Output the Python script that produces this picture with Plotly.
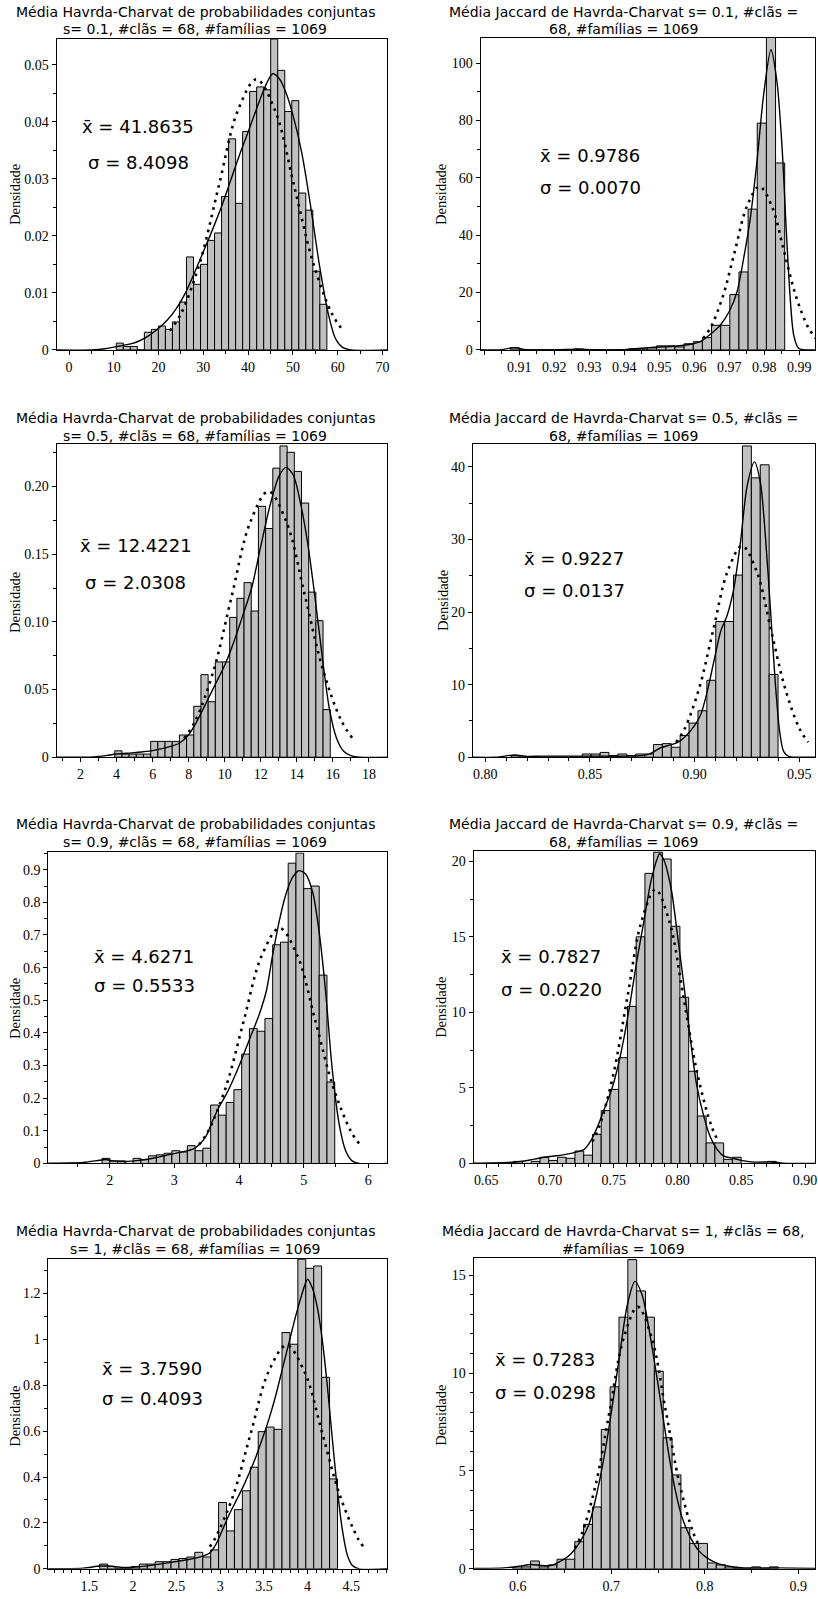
import plotly.graph_objects as go

W, H = 818, 1599

# ---------------- data ----------------
P1_TITLE = ["Média Havrda-Charvat de probabilidades conjuntas", "s= 0.1, #clãs = 68, #famílias = 1069"]
P1_MEAN, P1_SIGMA = "41.8635", "8.4098"
P1_BIN_START, P1_BIN_WIDTH = 10.55, 1.568
P1_HEIGHTS = [0.0012, 0.0006, 0.0006, 0, 0.0031, 0.0036, 0.0042, 0.0036, 0.0049, 0.0084, 0.0163, 0.0115,
              0.0150, 0.0192, 0.0205, 0.0269, 0.0370, 0.0257, 0.0383, 0.0453, 0.0461, 0.0456, 0.0545,
              0.0490, 0.0418, 0.0437, 0.0275, 0.0245, 0.0138, 0.0080]
P1_KDE_X = [-2.8, 5, 8, 10, 12, 14, 16, 18, 20, 22, 24, 26, 28, 30, 32, 34, 36, 38, 40, 42, 44, 45.5, 47,
            48.5, 50, 52, 54, 56, 58, 59.5, 61, 63, 71.1]
P1_KDE_Y = [0, 0, 0.0002, 0.0005, 0.0008, 0.0011, 0.0017, 0.0026, 0.0038, 0.0053, 0.0073, 0.0100, 0.0135,
            0.0172, 0.0210, 0.0250, 0.0295, 0.0340, 0.0382, 0.0425, 0.0465, 0.0484, 0.0475, 0.0450, 0.0412,
            0.0345, 0.0250, 0.0145, 0.0060, 0.0020, 0.0005, 0, 0]
P1_NORM_X = [22.52, 25.04, 29.25, 33.46, 37.66, 41.86, 46.07, 50.27, 54.48, 58.68, 61.21]
P1_NORM_Y = [0.00337, 0.00642, 0.01540, 0.02877, 0.04187, 0.04744, 0.04187, 0.02877, 0.01540, 0.00642, 0.00337]

P2_TITLE = ["Média Jaccard de Havrda-Charvat s= 0.1, #clãs =", "68, #famílias = 1069"]
P2_MEAN, P2_SIGMA = "0.9786", "0.0070"
P2_BIN_START, P2_BIN_WIDTH = 0.90743, 0.002613
P2_HEIGHTS = [0.72, 0, 0, 0, 0, 0, 0, 0.36, 0, 0, 0, 0, 0, 0.36, 0.36, 0.72, 1.43, 1.43, 1.07, 2.15, 2.87,
              4.30, 8.60, 8.60, 19.3, 27.2, 49.1, 79.1, 110.3, 65.2]
P2_KDE_X = [0.8989, 0.905, 0.9084, 0.912, 0.92, 0.9266, 0.932, 0.94, 0.9447, 0.9494, 0.9542, 0.9589, 0.9618,
            0.9646, 0.9675, 0.9700, 0.9722, 0.9741, 0.976, 0.9779, 0.9798, 0.9819, 0.9836, 0.9851, 0.9863,
            0.9874, 0.9884, 0.9898, 0.9945]
P2_KDE_Y = [0, 0.1, 0.8, 0.1, 0, 0.3, 0, 0.1, 0.6, 1.0, 1.3, 2.0, 3.0, 5.5, 8.8, 13.5, 20.3, 32, 46, 65.7, 89,
            104.7, 93.6, 70, 41, 18, 5.2, 0.6, 0]
P2_NORM_X = [0.96250, 0.9646, 0.9681, 0.9716, 0.9751, 0.9786, 0.9821, 0.9856, 0.9891, 0.9926, 0.9947]
P2_NORM_Y = [4.05, 7.71, 18.50, 34.56, 50.29, 56.99, 50.29, 34.56, 18.50, 7.71, 4.05]

P3_TITLE = ["Média Havrda-Charvat de probabilidades conjuntas", "s= 0.5, #clãs = 68, #famílias = 1069"]
P3_MEAN, P3_SIGMA = "12.4221", "2.0308"
P3_BIN_START, P3_BIN_WIDTH = 3.90, 0.3985
P3_HEIGHTS = [0.0047, 0.0023, 0.0023, 0.0023, 0.0023, 0.0117, 0.0117, 0.0117, 0.0117, 0.0164, 0.0164, 0.0376,
              0.0610, 0.0410, 0.0704, 0.0704, 0.1033, 0.1174, 0.1290, 0.1080, 0.1854, 0.1690, 0.2136, 0.2300,
              0.2253, 0.2112, 0.1878, 0.1220, 0.1009, 0.0352]
P3_KDE_X = [0.67, 2.5, 3, 4, 5, 6, 7, 7.5, 8, 8.5, 9, 9.5, 10, 10.5, 11, 11.5, 12, 12.5, 13, 13.4, 13.8, 14.2,
            14.6, 15, 15.4, 15.8, 16.2, 16.6, 17, 17.5, 18.99]
P3_KDE_Y = [0, 0, 0.0005, 0.0024, 0.0034, 0.0049, 0.008, 0.0105, 0.0166, 0.0276, 0.041, 0.0545, 0.068, 0.085,
            0.1046, 0.1254, 0.156, 0.1853, 0.2073, 0.2142, 0.2086, 0.188, 0.1584, 0.119, 0.0753, 0.0362,
            0.0142, 0.0044, 0.0012, 0, 0]
P3_NORM_X = [7.751, 8.360, 9.376, 10.391, 11.407, 12.422, 13.437, 14.453, 15.468, 16.484, 17.093]
P3_NORM_Y = [0.01395, 0.02658, 0.06379, 0.11915, 0.17337, 0.19645, 0.17337, 0.11915, 0.06379, 0.02658, 0.01395]

P4_TITLE = ["Média Jaccard de Havrda-Charvat s= 0.5, #clãs =", "68, #famílias = 1069"]
P4_MEAN, P4_SIGMA = "0.9227", "0.0137"
P4_BIN_START, P4_BIN_WIDTH = 0.81238, 0.004249
P4_HEIGHTS = [0.22, 0, 0, 0, 0, 0, 0, 0, 0.44, 0.44, 0.66, 0.22, 0.44, 0.22, 0.44, 0.44, 1.74, 1.87, 1.37,
              3.0, 4.7, 6.4, 10.6, 18.7, 18.7, 25.1, 42.9, 38.5, 40.3, 11.4]
P4_KDE_X = [0.7941, 0.805, 0.8140, 0.82, 0.8267, 0.85, 0.8775, 0.8838, 0.8886, 0.8917, 0.8957, 0.8997, 0.9029,
            0.9060, 0.9092, 0.9124, 0.9156, 0.9187, 0.9219, 0.9251, 0.9286, 0.9314, 0.9338, 0.9362, 0.9386,
            0.9406, 0.9425, 0.9449, 0.9473, 0.9575]
P4_KDE_Y = [0, 0, 0.3, 0.1, 0.15, 0.15, 0.35, 1.3, 1.7, 2.0, 2.9, 4.25, 5.85, 9.0, 13.2, 17.3, 19.6, 23.2, 29.6,
            37.4, 40.7, 37.9, 30.5, 20.5, 10, 3.6, 0.8, 0.1, 0, 0]
P4_NORM_X = [0.89119, 0.8953, 0.90215, 0.9090, 0.91585, 0.9227, 0.92955, 0.9364, 0.94325, 0.9501, 0.95421]
P4_NORM_Y = [2.068, 3.940, 9.455, 17.661, 25.698, 29.12, 25.698, 17.661, 9.455, 3.940, 2.068]

P5_TITLE = ["Média Havrda-Charvat de probabilidades conjuntas", "s= 0.9, #clãs = 68, #famílias = 1069"]
P5_MEAN, P5_SIGMA = "4.6271", "0.5533"
P5_BIN_START, P5_BIN_WIDTH = 1.8817, 0.11997
P5_HEIGHTS = [0.0156, 0.0078, 0.0078, 0, 0.0156, 0.0117, 0.0234, 0.0264, 0.0312, 0.0390, 0.0350, 0.0546,
              0.0390, 0.0468, 0.179, 0.148, 0.187, 0.226, 0.335, 0.413, 0.405, 0.444, 0.670, 0.678, 0.920,
              0.951, 0.842, 0.850, 0.577, 0.2495]
P5_KDE_X = [1.048, 1.589, 1.846, 1.94, 2.05, 2.26, 2.46, 2.67, 2.87, 3.08, 3.29, 3.39, 3.49, 3.59, 3.70, 3.80,
            3.90, 4.01, 4.11, 4.21, 4.31, 4.42, 4.52, 4.62, 4.72, 4.83, 4.93, 5.03, 5.14, 5.24, 5.34, 5.44,
            5.55, 5.65, 5.75, 5.86, 6.295]
P5_KDE_Y = [0.001, 0.003, 0.010, 0.012, 0.008, 0.006, 0.010, 0.016, 0.025, 0.034, 0.044, 0.059, 0.084, 0.13,
            0.176, 0.211, 0.252, 0.303, 0.354, 0.404, 0.455, 0.526, 0.638, 0.74, 0.821, 0.877, 0.897, 0.887,
            0.831, 0.709, 0.526, 0.293, 0.12, 0.039, 0.008, 0, 0]
P5_NORM_X = [3.3822, 3.5205, 3.7972, 4.0738, 4.3505, 4.6271, 4.9038, 5.1804, 5.4571, 5.7337, 5.8720]
P5_NORM_Y = [0.0574, 0.0976, 0.2341, 0.4373, 0.6363, 0.7210, 0.6363, 0.4373, 0.2341, 0.0976, 0.0574]

P6_TITLE = ["Média Jaccard de Havrda-Charvat s= 0.9, #clãs =", "68, #famílias = 1069"]
P6_MEAN, P6_SIGMA = "0.7827", "0.0220"
P6_BIN_START, P6_BIN_WIDTH = 0.67161, 0.006857
P6_HEIGHTS = [0.136, 0, 0.136, 0.41, 0.2, 0.41, 0.34, 0.82, 0.55, 1.93, 3.5, 4.9, 7.0, 10.4, 15.0, 19.2, 20.6,
              20.15, 15.7, 11.0, 6.1, 3.14, 1.36, 1.36, 0.27, 0.41, 0, 0, 0, 0.136]
P6_KDE_X = [0.6401, 0.667, 0.677, 0.688, 0.698, 0.709, 0.719, 0.727, 0.732, 0.737, 0.742, 0.748, 0.753, 0.758,
            0.763, 0.768, 0.774, 0.779, 0.784, 0.786, 0.789, 0.795, 0.800, 0.805, 0.810, 0.815, 0.821, 0.826,
            0.831, 0.836, 0.843, 0.849, 0.860, 0.874, 0.883, 0.9078]
P6_KDE_Y = [0.02, 0.07, 0.13, 0.29, 0.44, 0.55, 0.72, 0.94, 1.49, 2.37, 3.47, 4.79, 6.32, 8.3, 10.7, 13.35,
            16.2, 18.6, 20.15, 20.5, 20.15, 18.2, 15.1, 11.8, 8.3, 5.2, 3.0, 1.7, 0.94, 0.5, 0.35, 0.22, 0.09,
            0.1, 0.02, 0]
P6_NORM_X = [0.7332, 0.7387, 0.7497, 0.7607, 0.7717, 0.7827, 0.7937, 0.8047, 0.8157, 0.8267, 0.8322]
P6_NORM_Y = [1.4435, 2.4535, 5.888, 10.998, 16.003, 18.134, 16.003, 10.998, 5.888, 2.4535, 1.4435]

P7_TITLE = ["Média Havrda-Charvat de probabilidades conjuntas", "s= 1, #clãs = 68, #famílias = 1069"]
P7_MEAN, P7_SIGMA = "3.7590", "0.4093"
P7_BIN_START, P7_BIN_WIDTH = 1.619, 0.0908
P7_HEIGHTS = [0.0206, 0.0103, 0, 0, 0.0103, 0.0206, 0.0206, 0.031, 0.031, 0.041, 0.045, 0.0515, 0.072, 0.0515,
              0.0825, 0.289, 0.165, 0.258, 0.34, 0.443, 0.598, 0.618, 0.608, 1.03, 0.979, 1.35, 1.31, 1.32,
              0.835, 0.392]
P7_KDE_X = [1.029, 1.43, 1.62, 1.73, 1.886, 2.0, 2.19, 2.38, 2.57, 2.76, 2.876, 2.952, 3.029, 3.105, 3.181,
            3.257, 3.333, 3.41, 3.486, 3.562, 3.638, 3.714, 3.79, 3.867, 3.943, 4.0, 4.057, 4.114, 4.171,
            4.229, 4.286, 4.343, 4.4, 4.457, 4.514, 4.59, 4.914]
P7_KDE_Y = [0, 0.003, 0.012, 0.012, 0.006, 0.007, 0.014, 0.025, 0.036, 0.051, 0.068, 0.108, 0.173, 0.239,
            0.296, 0.354, 0.419, 0.49, 0.571, 0.658, 0.759, 0.875, 0.99, 1.106, 1.207, 1.262, 1.222, 1.135,
            0.99, 0.788, 0.557, 0.34, 0.166, 0.058, 0.014, 0, 0]
P7_NORM_X = [2.879, 2.9404, 3.1451, 3.3497, 3.5544, 3.7590, 3.9637, 4.1683, 4.3730, 4.5776, 4.639]
P7_NORM_Y = [0.0967, 0.1319, 0.3165, 0.5912, 0.8602, 0.9747, 0.8602, 0.5912, 0.3165, 0.1319, 0.0967]

P8_TITLE = ["Média Jaccard de Havrda-Charvat s= 1, #clãs = 68,", "#famílias = 1069"]
P8_MEAN, P8_SIGMA = "0.7283", "0.0298"
P8_BIN_START, P8_BIN_WIDTH = 0.5948, 0.009456
P8_HEIGHTS = [0.099, 0.099, 0.40, 0.099, 0.2, 0.49, 0.49, 1.385, 2.27, 3.16, 7.12, 9.3, 12.86, 15.8, 14.2,
              12.86, 10.1, 6.7, 4.8, 2.1, 1.3, 1.3, 0.3, 0.2, 0.099, 0, 0, 0.099, 0, 0.099]
P8_KDE_X = [0.5528, 0.5858, 0.6, 0.6142, 0.6248, 0.6355, 0.6461, 0.6568, 0.6674, 0.6763, 0.6852, 0.6941,
            0.7029, 0.71, 0.7171, 0.7253, 0.7331, 0.7402, 0.7473, 0.7544, 0.7615, 0.7686, 0.7757, 0.7846,
            0.7935, 0.8023, 0.813, 0.8272, 0.8414, 0.8733, 0.9178]
P8_KDE_Y = [0.02, 0.05, 0.12, 0.22, 0.17, 0.17, 0.39, 0.76, 1.44, 2.29, 3.98, 6.19, 8.9, 11.27, 13.47, 14.69,
            13.98, 12.29, 10.25, 8.05, 5.85, 3.98, 2.63, 1.61, 0.93, 0.56, 0.29, 0.12, 0.05, 0.05, 0.02]
P8_NORM_X = [0.66125, 0.6687, 0.6836, 0.6985, 0.7134, 0.7283, 0.7432, 0.7581, 0.7730, 0.7879, 0.79535]
P8_NORM_Y = [1.0656, 1.8113, 4.3468, 8.1192, 11.814, 13.387, 11.814, 8.1192, 4.3468, 1.8113, 1.0656]

# tick labels
P1_XTICKS = [0, 10, 20, 30, 40, 50, 60, 70]
P1_YTICKS = [0, 0.01, 0.02, 0.03, 0.04, 0.05]
P1_YLABELS = ["0", "0.01", "0.02", "0.03", "0.04", "0.05"]
P2_XTICKS = [0.90, 0.91, 0.92, 0.93, 0.94, 0.95, 0.96, 0.97, 0.98, 0.99]
P2_XLABELS = ["", "0.91", "0.92", "0.93", "0.94", "0.95", "0.96", "0.97", "0.98", "0.99"]
P2_YTICKS = [0, 20, 40, 60, 80, 100]
P3_XTICKS = [2, 4, 6, 8, 10, 12, 14, 16, 18]
P3_YTICKS = [0, 0.05, 0.10, 0.15, 0.20]
P3_YLABELS = ["0", "0.05", "0.10", "0.15", "0.20"]
P4_XTICKS = [0.80, 0.85, 0.90, 0.95]
P4_XLABELS = ["0.80", "0.85", "0.90", "0.95"]
P4_YTICKS = [0, 10, 20, 30, 40]
P5_XTICKS = [2, 3, 4, 5, 6]
P5_YTICKS = [0, 0.1, 0.2, 0.3, 0.4, 0.5, 0.6, 0.7, 0.8, 0.9]
P5_YLABELS = ["0", "0.1", "0.2", "0.3", "0.4", "0.5", "0.6", "0.7", "0.8", "0.9"]
P6_XTICKS = [0.65, 0.70, 0.75, 0.80, 0.85, 0.90]
P6_XLABELS = ["0.65", "0.70", "0.75", "0.80", "0.85", "0.90"]
P6_YTICKS = [0, 5, 10, 15, 20]
P7_XTICKS = [1.5, 2, 2.5, 3, 3.5, 4, 4.5]
P7_XLABELS = ["1.5", "2", "2.5", "3", "3.5", "4", "4.5"]
P7_YTICKS = [0, 0.2, 0.4, 0.6, 0.8, 1.0, 1.2]
P7_YLABELS = ["0", "0.2", "0.4", "0.6", "0.8", "1", "1.2"]
P8_XTICKS = [0.6, 0.7, 0.8, 0.9]
P8_XLABELS = ["0.6", "0.7", "0.8", "0.9"]
P8_YTICKS = [0, 5, 10, 15]

# ---------------- panel geometry / styling (pixels) ----------------
PANELS = [
    dict(start=P1_BIN_START, bw=P1_BIN_WIDTH, h=P1_HEIGHTS, kx=P1_KDE_X, ky=P1_KDE_Y, nx=P1_NORM_X, ny=P1_NORM_Y,
         title=P1_TITLE, mean=P1_MEAN, sigma=P1_SIGMA,
         L=56.7, R=388.3, T=39.3, B=351.7, xr=[-2.79, 71.1], yr=[0, 0.05448],
         xt=P1_XTICKS, xl=[str(v) for v in P1_XTICKS], yt=P1_YTICKS, yl=P1_YLABELS, xm=5, ym=0.005,
         tcx=195.8, ty=(11.7, 29.3), sx=(80, 86), sy=(126.7, 163.3), lx=15, ly=195),
    dict(start=P2_BIN_START, bw=P2_BIN_WIDTH, h=P2_HEIGHTS, kx=P2_KDE_X, ky=P2_KDE_Y, nx=P2_NORM_X, ny=P2_NORM_Y,
         title=P2_TITLE, mean=P2_MEAN, sigma=P2_SIGMA,
         L=481.7, R=817, T=37.7, B=351.7, xr=[0.8989, 0.99448], yr=[0, 108.95],
         xt=P2_XTICKS, xl=P2_XLABELS, yt=P2_YTICKS, yl=[str(v) for v in P2_YTICKS], xm=0.005, ym=10,
         tcx=624.8, ty=(11.7, 29.3), sx=(539.7, 539.7), sy=(156.7, 188.3), lx=442, ly=195),
    dict(start=P3_BIN_START, bw=P3_BIN_WIDTH, h=P3_HEIGHTS, kx=P3_KDE_X, ky=P3_KDE_Y, nx=P3_NORM_X, ny=P3_NORM_Y,
         title=P3_TITLE, mean=P3_MEAN, sigma=P3_SIGMA,
         L=56.7, R=387.7, T=446.7, B=761, xr=[0.67, 18.99], yr=[0, 0.2311],
         xt=P3_XTICKS, xl=[str(v) for v in P3_XTICKS], yt=P3_YTICKS, yl=P3_YLABELS, xm=1, ym=0.025,
         tcx=195.8, ty=(420, 438.3), sx=(78.3, 83.3), sy=(548.3, 585), lx=15, ly=605),
    dict(start=P4_BIN_START, bw=P4_BIN_WIDTH, h=P4_HEIGHTS, kx=P4_KDE_X, ky=P4_KDE_Y, nx=P4_NORM_X, ny=P4_NORM_Y,
         title=P4_TITLE, mean=P4_MEAN, sigma=P4_SIGMA,
         L=474, R=817, T=446, B=761, xr=[0.7941, 0.9575], yr=[0, 43.2],
         xt=P4_XTICKS, xl=P4_XLABELS, yt=P4_YTICKS, yl=[str(v) for v in P4_YTICKS], xm=0.01, ym=5,
         tcx=624.8, ty=(420, 438.3), sx=(523, 523), sy=(561.7, 593.3), lx=444, ly=603),
    dict(start=P5_BIN_START, bw=P5_BIN_WIDTH, h=P5_HEIGHTS, kx=P5_KDE_X, ky=P5_KDE_Y, nx=P5_NORM_X, ny=P5_NORM_Y,
         title=P5_TITLE, mean=P5_MEAN, sigma=P5_SIGMA,
         L=48.3, R=388.3, T=856.7, B=1169.3, xr=[1.048, 6.295], yr=[0, 0.953],
         xt=P5_XTICKS, xl=[str(v) for v in P5_XTICKS], yt=P5_YTICKS, yl=P5_YLABELS, xm=0.5, ym=0.05,
         tcx=195.8, ty=(828.3, 846), sx=(92.7, 92.7), sy=(961.7, 990), lx=15, ly=1013),
    dict(start=P6_BIN_START, bw=P6_BIN_WIDTH, h=P6_HEIGHTS, kx=P6_KDE_X, ky=P6_KDE_Y, nx=P6_NORM_X, ny=P6_NORM_Y,
         title=P6_TITLE, mean=P6_MEAN, sigma=P6_SIGMA,
         L=474.7, R=817, T=855, B=1169.3, xr=[0.6401, 0.9078], yr=[0, 20.7],
         xt=P6_XTICKS, xl=P6_XLABELS, yt=P6_YTICKS, yl=[str(v) for v in P6_YTICKS], xm=0.01, ym=2.5,
         tcx=624.8, ty=(828.3, 846), sx=(500.7, 500.7), sy=(961.7, 994.3), lx=442, ly=1012),
    dict(start=P7_BIN_START, bw=P7_BIN_WIDTH, h=P7_HEIGHTS, kx=P7_KDE_X, ky=P7_KDE_Y, nx=P7_NORM_X, ny=P7_NORM_Y,
         title=P7_TITLE, mean=P7_MEAN, sigma=P7_SIGMA,
         L=48.3, R=388.3, T=1265, B=1576.7, xr=[1.029, 4.914], yr=[0, 1.352],
         xt=P7_XTICKS, xl=P7_XLABELS, yt=P7_YTICKS, yl=P7_YLABELS, xm=0.1, ym=0.1,
         tcx=195.8, ty=(1236.7, 1255), sx=(100.7, 100.7), sy=(1375, 1405.7), lx=15, ly=1423),
    dict(start=P8_BIN_START, bw=P8_BIN_WIDTH, h=P8_HEIGHTS, kx=P8_KDE_X, ky=P8_KDE_Y, nx=P8_NORM_X, ny=P8_NORM_Y,
         title=P8_TITLE, mean=P8_MEAN, sigma=P8_SIGMA,
         L=474.7, R=817, T=1264, B=1576.7, xr=[0.5528, 0.9178], yr=[0, 15.9],
         xt=P8_XTICKS, xl=P8_XLABELS, yt=P8_YTICKS, yl=[str(v) for v in P8_YTICKS], xm=0.05, ym=1,
         tcx=624.8, ty=(1236.7, 1255), sx=(494, 494), sy=(1366.7, 1400), lx=442, ly=1422),
]

SANS = "DejaVu Sans"
SERIF = "Liberation Serif"


def px(x):
    return x / W


def py(y):
    return 1 - y / H


fig = go.Figure()
layout = {}
annotations = []

for i, p in enumerate(PANELS, start=1):
    xa = "x" if i == 1 else f"x{i}"
    ya = "y" if i == 1 else f"y{i}"
    centers = [p["start"] + p["bw"] * (k + 0.5) for k in range(len(p["h"]))]
    fig.add_trace(go.Bar(x=centers, y=p["h"], width=p["bw"], xaxis=xa, yaxis=ya,
                         marker=dict(color="#c0c0c0", line=dict(color="black", width=1)),
                         showlegend=False, hoverinfo="skip"))
    fig.add_trace(go.Scatter(x=p["kx"], y=p["ky"], mode="lines", xaxis=xa, yaxis=ya,
                             line=dict(color="black", width=1.4, shape="spline", smoothing=0.8),
                             showlegend=False, hoverinfo="skip"))
    fig.add_trace(go.Scatter(x=p["nx"], y=p["ny"], mode="lines", xaxis=xa, yaxis=ya,
                             line=dict(color="black", width=2.6, dash="2.6px,5px", shape="spline", smoothing=1),
                             showlegend=False, hoverinfo="skip"))

    common = dict(showline=True, linecolor="black", linewidth=1, mirror=True, ticks="outside",
                  ticklen=4, tickcolor="black", tickwidth=1, showgrid=False, zeroline=False,
                  tickfont=dict(family=SERIF, size=14, color="black"), tickmode="array",
                  fixedrange=True, ticklabeloverflow="allow")
    layout["xaxis" if i == 1 else f"xaxis{i}"] = dict(
        common, domain=[px(p["L"]), px(p["R"])], range=p["xr"], anchor=ya,
        tickvals=p["xt"], ticktext=p["xl"],
        minor=dict(ticks="outside", ticklen=3, tickcolor="black", tick0=0, dtick=p["xm"]))
    layout["yaxis" if i == 1 else f"yaxis{i}"] = dict(
        common, domain=[py(p["B"]), py(p["T"])], range=p["yr"], anchor=xa,
        tickvals=p["yt"], ticktext=p["yl"],
        minor=dict(ticks="outside", ticklen=3, tickcolor="black", tick0=0, dtick=p["ym"]))

    for line, yy in zip(p["title"], p["ty"]):
        annotations.append(dict(text=line, x=px(p["tcx"]), y=py(yy), xref="paper", yref="paper",
                                xanchor="center", yanchor="middle", showarrow=False,
                                font=dict(family=SANS, size=14, color="black")))
    annotations.append(dict(text="x\u0304 = " + p["mean"], x=px(p["sx"][0]), y=py(p["sy"][0]),
                            xref="paper", yref="paper", xanchor="left", yanchor="middle",
                            showarrow=False, font=dict(family=SANS, size=18, color="black")))
    annotations.append(dict(text="\u03c3 = " + p["sigma"], x=px(p["sx"][1]), y=py(p["sy"][1]),
                            xref="paper", yref="paper", xanchor="left", yanchor="middle",
                            showarrow=False, font=dict(family=SANS, size=18, color="black")))
    annotations.append(dict(text="Densidade", x=px(p["lx"]), y=py(p["ly"]), xref="paper", yref="paper",
                            xanchor="center", yanchor="middle", textangle=-90, showarrow=False,
                            font=dict(family=SERIF, size=14.5, color="black")))

fig.update_layout(**layout)
fig.update_layout(width=W, height=H, margin=dict(l=0, r=0, t=0, b=0, pad=0),
                  paper_bgcolor="white", plot_bgcolor="white", showlegend=False,
                  annotations=annotations, bargap=0)

fig.write_html("out.html", config={"displayModeBar": False, "staticPlot": True},
               post_script="document.body.style.margin='0';document.body.style.overflow='hidden';")
